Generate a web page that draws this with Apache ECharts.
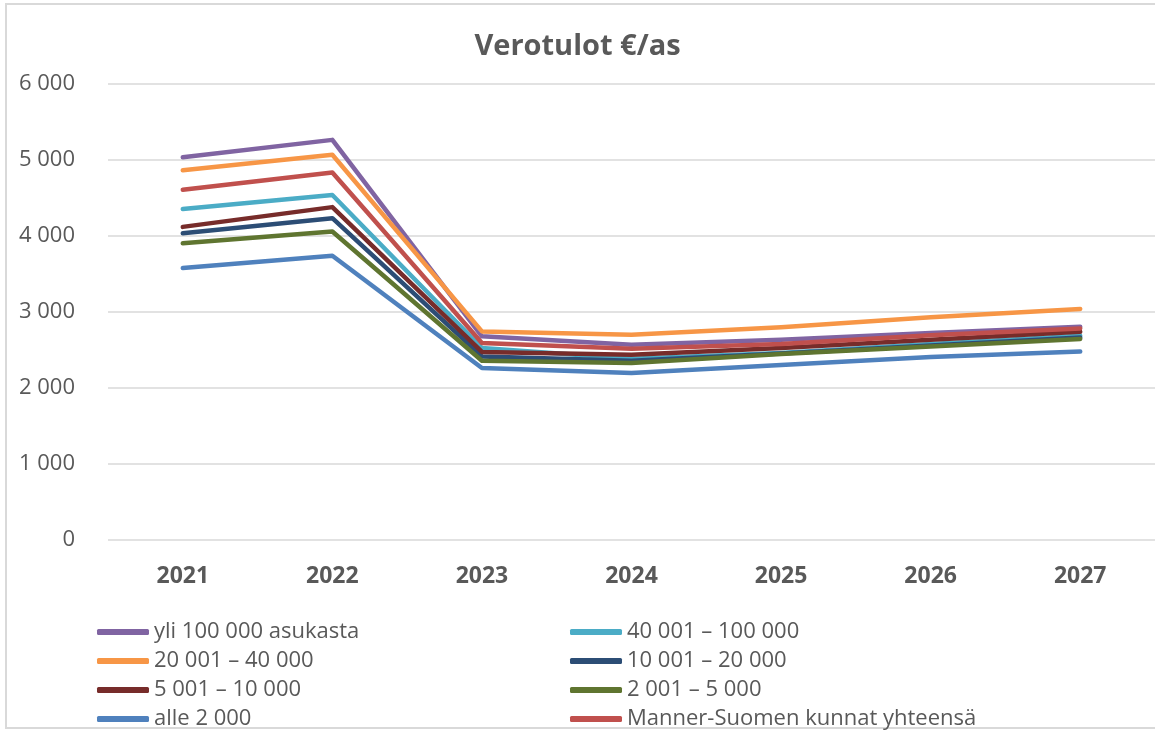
<!DOCTYPE html>
<html>
<head>
<meta charset="utf-8">
<script src="https://cdn.jsdelivr.net/npm/echarts@6/dist/echarts.min.js"></script>
<style>html,body{margin:0;padding:0;background:#fff;}#c{width:1155px;height:731px;}</style>
</head>
<body>
<div id="c"></div>
<script>
const years = ['2021', '2022', '2023', '2024', '2025', '2026', '2027'];
const yTicks = [0, 1000, 2000, 3000, 4000, 5000, 6000];

const yli100k = [5035, 5265, 2680, 2570, 2636, 2724, 2805];
const v40_100 = [4355, 4540, 2526, 2386, 2461, 2579, 2688];
const v20_40  = [4865, 5070, 2745, 2700, 2800, 2930, 3040];
const v10_20  = [4037, 4235, 2416, 2360, 2455, 2560, 2665];
const v5_10   = [4120, 4380, 2474, 2438, 2526, 2636, 2740];
const v2_5    = [3905, 4060, 2359, 2329, 2447, 2547, 2645];
const alle2   = [3578, 3740, 2263, 2197, 2303, 2408, 2480];
const manner  = [4608, 4835, 2592, 2518, 2579, 2693, 2784];

const seriesNames = ['yli 100 000 asukasta', '40 001 – 100 000', '20 001 – 40 000', '10 001 – 20 000',
  '5 001 – 10 000', '2 001 – 5 000', 'alle 2 000', 'Manner-Suomen kunnat yhteensä'];
const seriesData = [yli100k, v40_100, v20_40, v10_20, v5_10, v2_5, alle2, manner];
const colors = ['#8064A2', '#4BACC6', '#F79646', '#2C4D75', '#772C2A', '#5F7530', '#4F81BD', '#C0504D'];

const FONT = 'Open Sans';
const chart = echarts.init(document.getElementById('c'), null, {renderer: 'canvas'});
chart.setOption({
  backgroundColor: '#fff',
  animation: false,
  color: colors,
  title: {
    text: 'Verotulot €/as', left: 'center', top: 27,
    textStyle: {fontFamily: FONT, fontSize: 29, fontWeight: 'bold', color: '#595959'}
  },
  graphic: [{
    type: 'rect', shape: {x: 6, y: 4, width: 1200, height: 724},
    style: {fill: 'none', stroke: '#d9d9d9', lineWidth: 2}, silent: true, z: -10
  }],
  legend: {
    left: 92, top: 616, width: 980,
    icon: 'roundRect', itemWidth: 52, itemHeight: 6, itemGap: 7,
    itemStyle: {borderWidth: 0},
    textStyle: {fontFamily: FONT, fontSize: 22, color: '#595959', width: 409, lineHeight: 21.7},
    data: seriesNames
  },
  grid: {left: 108, top: 84, width: 1050, bottom: 191, containLabel: false},
  xAxis: {
    type: 'category', data: years, boundaryGap: true,
    axisLine: {show: false}, axisTick: {show: false},
    axisLabel: {fontFamily: FONT, fontSize: 23, fontWeight: 'bold', color: '#595959', margin: 25}
  },
  yAxis: {
    type: 'value', min: 0, max: 6000, interval: 1000,
    axisLine: {show: false}, axisTick: {show: false},
    splitLine: {lineStyle: {color: '#d9d9d9', width: 1.5}},
    axisLabel: {
      fontFamily: FONT, fontSize: 22, color: '#595959', margin: 33,
      formatter: v => yTicks.includes(v) ? String(v).replace(/\B(?=(\d{3})+(?!\d))/g, ' ') : ''
    }
  },
  series: seriesData.map((d, i) => ({
    name: seriesNames[i], type: 'line', data: d,
    symbol: 'none', smooth: false,
    lineStyle: {width: 4.5, cap: 'round', join: 'round', color: colors[i]},
    itemStyle: {color: colors[i]},
    z: 2 + i
  }))
});
</script>
</body>
</html>
